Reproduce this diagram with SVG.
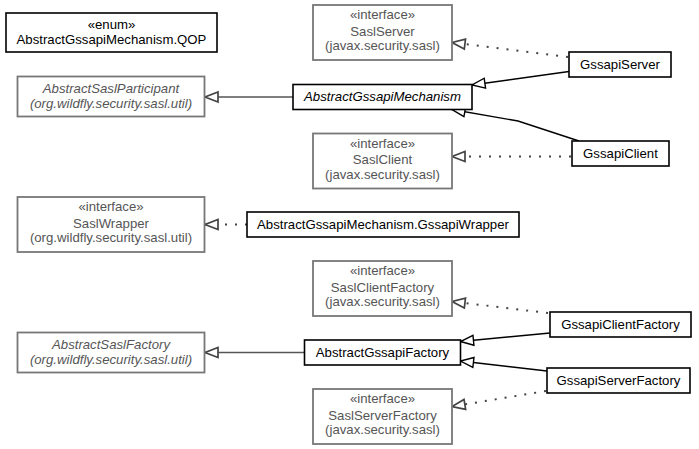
<svg xmlns="http://www.w3.org/2000/svg" width="699" height="449" viewBox="0 0 699 449">
<style>
text{font-family:"Liberation Sans",Arial,sans-serif;font-size:13.2px;text-anchor:middle}
.b rect{fill:#fff;stroke:#000;stroke-width:1.6}
.g rect{fill:#fff;stroke:#777;stroke-width:1.8}
.b text{fill:#000}
.g text{fill:#555}
.i{font-style:italic}
.s{fill:none;stroke:#000;stroke-width:1.4}
.sg{fill:none;stroke:#555;stroke-width:1.4}
.d{fill:none;stroke:#444;stroke-width:2;stroke-dasharray:2,8}
</style>
<defs>
<marker id="ab" markerUnits="userSpaceOnUse" markerWidth="16" markerHeight="13" refX="14" refY="6" orient="auto" overflow="visible">
<path d="M1,1 L14,6 L1,11 Z" fill="#fff" stroke="#000" stroke-width="1.4"/>
</marker>
<marker id="ag" markerUnits="userSpaceOnUse" markerWidth="16" markerHeight="13" refX="14" refY="6" orient="auto" overflow="visible">
<path d="M1,1 L14,6 L1,11 Z" fill="#fff" stroke="#444" stroke-width="1.7"/>
</marker>
</defs>
<g id="connectors">
<path class="sg" d="M293,97 L205,97" marker-end="url(#ag)"/>
<path class="s" d="M569,71.5 L472,85" marker-end="url(#ab)"/>
<path class="s" d="M579,141 L518,121 L452,109.5" marker-end="url(#ab)"/>
<path class="d" d="M568,57 L452,42.5" marker-end="url(#ag)"/>
<path class="d" d="M571,156.5 L452,156.5" marker-end="url(#ag)"/>
<path class="d" d="M247,224.5 L205,224.5" marker-end="url(#ag)"/>
<path class="sg" d="M304,352.5 L205,352.5" marker-end="url(#ag)"/>
<path class="s" d="M550,333 L460.5,341.5" marker-end="url(#ab)"/>
<path class="s" d="M547,371 L460.5,361" marker-end="url(#ab)"/>
<path class="d" d="M548,313 L452,301.5" marker-end="url(#ag)"/>
<path class="d" d="M546,391 L452,406.5" marker-end="url(#ag)"/>
</g>
<g id="qop" class="b">
<rect x="6" y="13" width="211" height="39"/>
<text x="111.5" y="29">«enum»</text>
<text x="111.5" y="43.5">AbstractGssapiMechanism.QOP</text>
</g>
<g id="abstractSaslParticipant" class="g">
<rect x="17.5" y="76.5" width="187" height="40"/>
<text class="i" x="111" y="93">AbstractSaslParticipant</text>
<text class="i" x="111" y="108">(org.wildfly.security.sasl.util)</text>
</g>
<g id="saslServer" class="g">
<rect x="313" y="5" width="139" height="55"/>
<text x="382.5" y="19">«interface»</text>
<text x="382.5" y="35.5">SaslServer</text>
<text x="382.5" y="50">(javax.security.sasl)</text>
</g>
<g id="abstractGssapiMechanism" class="b">
<rect x="293" y="84.5" width="179" height="25"/>
<text class="i" x="382.5" y="100.5">AbstractGssapiMechanism</text>
</g>
<g id="gssapiServer" class="b">
<rect x="569" y="52" width="102" height="25"/>
<text x="620" y="68.5">GssapiServer</text>
</g>
<g id="saslClient" class="g">
<rect x="313" y="133.5" width="139" height="55"/>
<text x="382.5" y="147.5">«interface»</text>
<text x="382.5" y="164">SaslClient</text>
<text x="382.5" y="178.5">(javax.security.sasl)</text>
</g>
<g id="gssapiClient" class="b">
<rect x="572" y="141" width="97" height="25"/>
<text x="620.5" y="157.5">GssapiClient</text>
</g>
<g id="saslWrapper" class="g">
<rect x="17.5" y="197" width="187" height="55"/>
<text x="111" y="211">«interface»</text>
<text x="111" y="227.5">SaslWrapper</text>
<text x="111" y="242">(org.wildfly.security.sasl.util)</text>
</g>
<g id="gssapiWrapper" class="b">
<rect x="247" y="212" width="272" height="25"/>
<text x="383" y="228.5">AbstractGssapiMechanism.GssapiWrapper</text>
</g>
<g id="saslClientFactory" class="g">
<rect x="313" y="261" width="139" height="55"/>
<text x="382.5" y="275">«interface»</text>
<text x="382.5" y="291.5">SaslClientFactory</text>
<text x="382.5" y="306">(javax.security.sasl)</text>
</g>
<g id="abstractSaslFactory" class="g">
<rect x="17.5" y="332.5" width="187" height="40"/>
<text class="i" x="111" y="349">AbstractSaslFactory</text>
<text class="i" x="111" y="364">(org.wildfly.security.sasl.util)</text>
</g>
<g id="abstractGssapiFactory" class="b">
<rect x="304.5" y="340" width="156" height="25"/>
<text x="382.5" y="356.5">AbstractGssapiFactory</text>
</g>
<g id="gssapiClientFactory" class="b">
<rect x="550" y="312" width="141" height="25"/>
<text x="620.5" y="328.5">GssapiClientFactory</text>
</g>
<g id="gssapiServerFactory" class="b">
<rect x="547" y="368" width="143" height="25"/>
<text x="618.5" y="384.5">GssapiServerFactory</text>
</g>
<g id="saslServerFactory" class="g">
<rect x="313" y="389" width="139" height="55"/>
<text x="382.5" y="403">«interface»</text>
<text x="382.5" y="419.5">SaslServerFactory</text>
<text x="382.5" y="434">(javax.security.sasl)</text>
</g>
</svg>
